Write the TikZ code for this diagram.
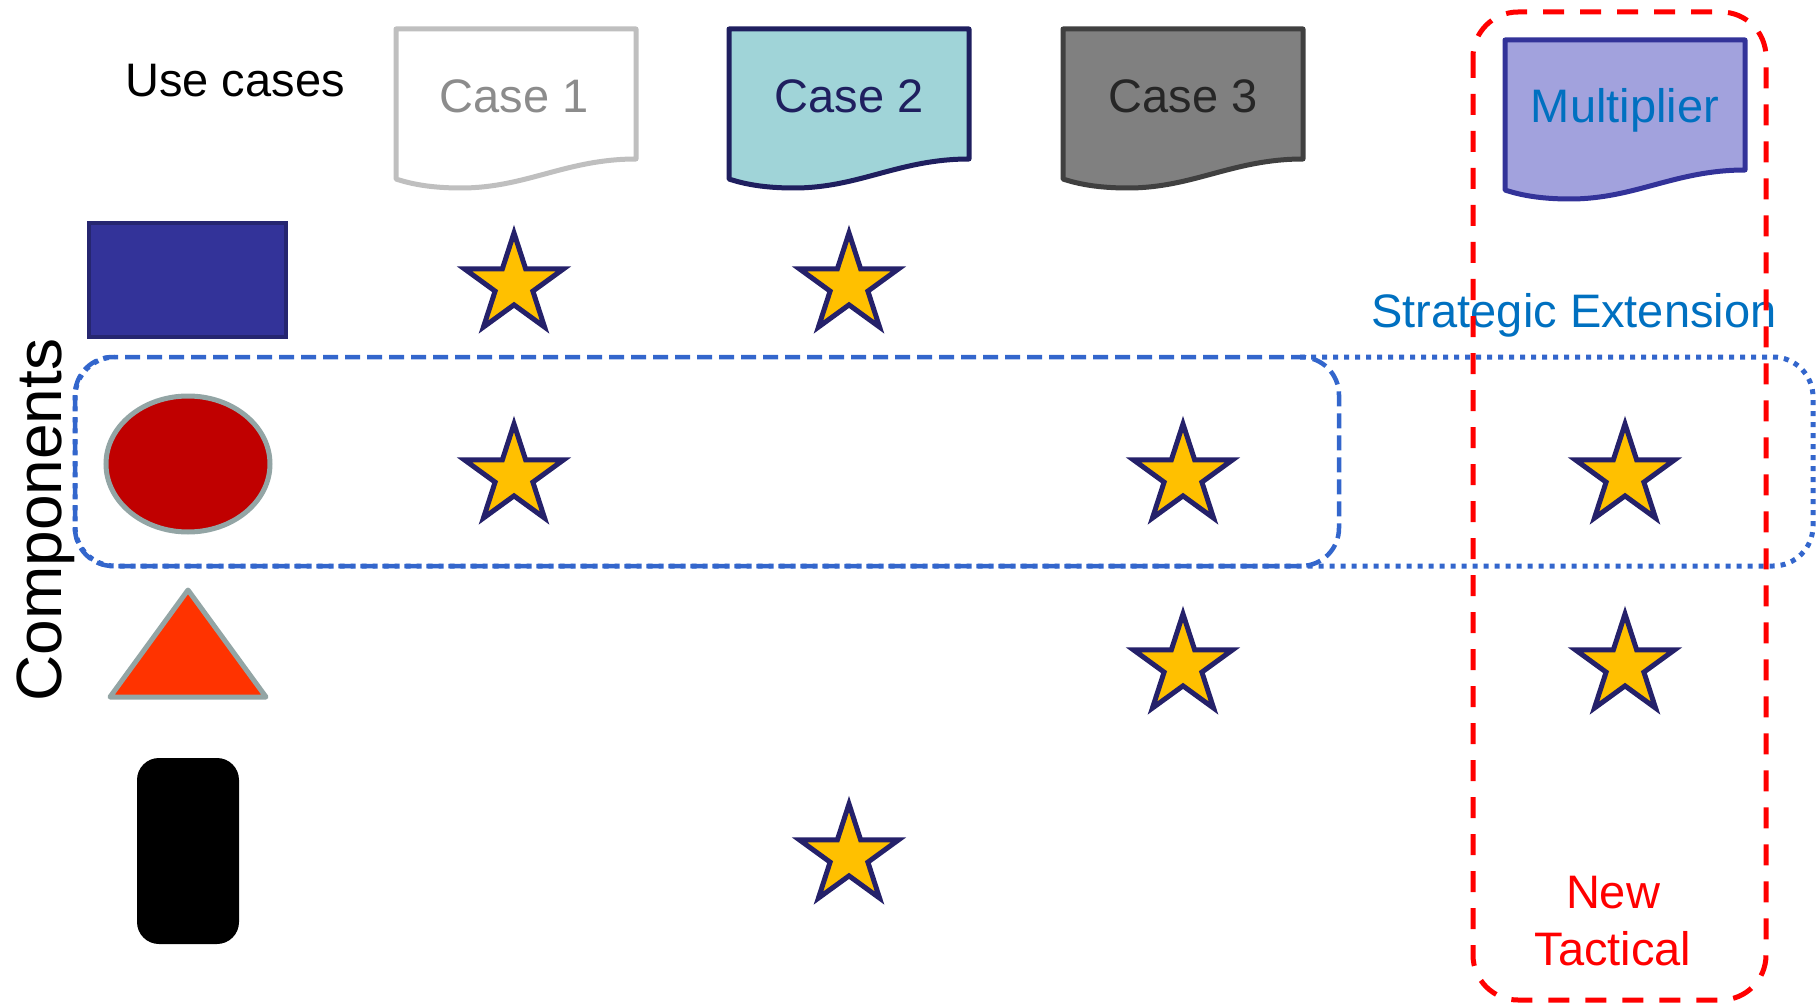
\documentclass[tikz,border=0pt]{standalone}
\usepackage{fontspec}
\setmainfont{Liberation Sans}
\usetikzlibrary{shapes.geometric}
\definecolor{starfill}{HTML}{FFC000}
\definecolor{starline}{HTML}{25216A}
\definecolor{cbluebox}{HTML}{3366CC}
\definecolor{cred}{HTML}{FF0000}
\definecolor{ctext}{HTML}{0070C0}
\definecolor{caseonel}{HTML}{BFBFBF}
\definecolor{caseonet}{HTML}{8C8C8C}
\definecolor{casetwof}{HTML}{A0D4D8}
\definecolor{casetwol}{HTML}{1F1F5F}
\definecolor{casethreef}{HTML}{808080}
\definecolor{casethreel}{HTML}{404040}
\definecolor{casethreet}{HTML}{262626}
\definecolor{multf}{HTML}{A2A2DD}
\definecolor{multl}{HTML}{333399}
\definecolor{rectf}{HTML}{333399}
\definecolor{rectl}{HTML}{262670}
\definecolor{ellf}{HTML}{C00000}
\definecolor{shapel}{HTML}{93A5A5}
\definecolor{trif}{HTML}{FF3300}
\tikzset{
  docshape/.pic={\path[pic actions] (0,0) -- (240,0) -- (240,130)
     .. controls (170,130) and (130,159) .. (65,159)
     .. controls (35,159) and (15,155) .. (0,150) -- cycle;},
  docstyle/.style={line width=5pt, line join=round},
  bigtext/.style={font=\fontsize{47}{57}\selectfont, anchor=base, inner sep=0pt},
  starnode/.style={star, star points=5, star point ratio=2.618, minimum size=104pt,
     inner sep=0pt, fill=starfill, draw=starline, line width=5pt},
}
\begin{document}
\begin{tikzpicture}[x=1pt,y=-1pt]
\useasboundingbox (0,0) rectangle (1816,1003);
% grouping boxes
\draw[cbluebox, line width=5pt, dash pattern=on 5pt off 6pt, rounded corners=40pt]
  (1300,357) -- (1813,357) -- (1813,566) -- (75,566) -- (75,357) -- (115,357);
\draw[cbluebox, line width=4.5pt, dash pattern=on 15pt off 7pt, rounded corners=38pt]
  (75,357) rectangle (1339,566);
\node[bigtext, text=ctext] (strat) at (1574,327) {Strategic Extension};
\draw[cred, line width=5pt, dash pattern=on 21pt off 16pt, rounded corners=45pt]
  (1473,12) rectangle (1766,1000);
\node[bigtext, text=cred] (newt) at (1613,908) {New};
\node[bigtext, text=cred] (tact) at (1613,965) {Tactical};
% header
\node[bigtext] (usecases) at (235,97) {Use cases};
\pic[docstyle, draw=caseonel, fill=white] at (396,29) {docshape};
\node[bigtext, text=caseonet] (case1) at (514,113) {Case 1};
\pic[docstyle, draw=casetwol, fill=casetwof] at (729,29) {docshape};
\node[bigtext, text=casetwol] (case2) at (849,113) {Case 2};
\pic[docstyle, draw=casethreel, fill=casethreef] at (1063,29) {docshape};
\node[bigtext, text=casethreet] (case3) at (1183,113) {Case 3};
\pic[docstyle, draw=multl, fill=multf] at (1505,40) {docshape};
\node[bigtext, text=ctext] (mult) at (1625,123) {Multiplier};
% components
\node[rotate=90, anchor=base, inner sep=0pt, font=\fontsize{64}{70}\selectfont] (comp) at (61,520) {Components};
\draw[rectl, fill=rectf, line width=3.5pt] (89,223) rectangle (286,337);
\draw[shapel, fill=ellf, line width=5pt] (188,464) ellipse [x radius=82, y radius=68];
\draw[shapel, fill=trif, line width=5pt, line join=round] (188,590) -- (266,697) -- (110,697) -- cycle;
\fill[black, rounded corners=22pt] (137,758) rectangle (239,944);
% stars
\node[starnode] (s11) at (514,285) {};
\node[starnode] (s12) at (849,285) {};
\node[starnode] (s21) at (514,476) {};
\node[starnode] (s23) at (1183,476) {};
\node[starnode] (s24) at (1625,476) {};
\node[starnode] (s33) at (1183,666) {};
\node[starnode] (s34) at (1625,666) {};
\node[starnode] (s42) at (849,856) {};
\end{tikzpicture}
\end{document}
